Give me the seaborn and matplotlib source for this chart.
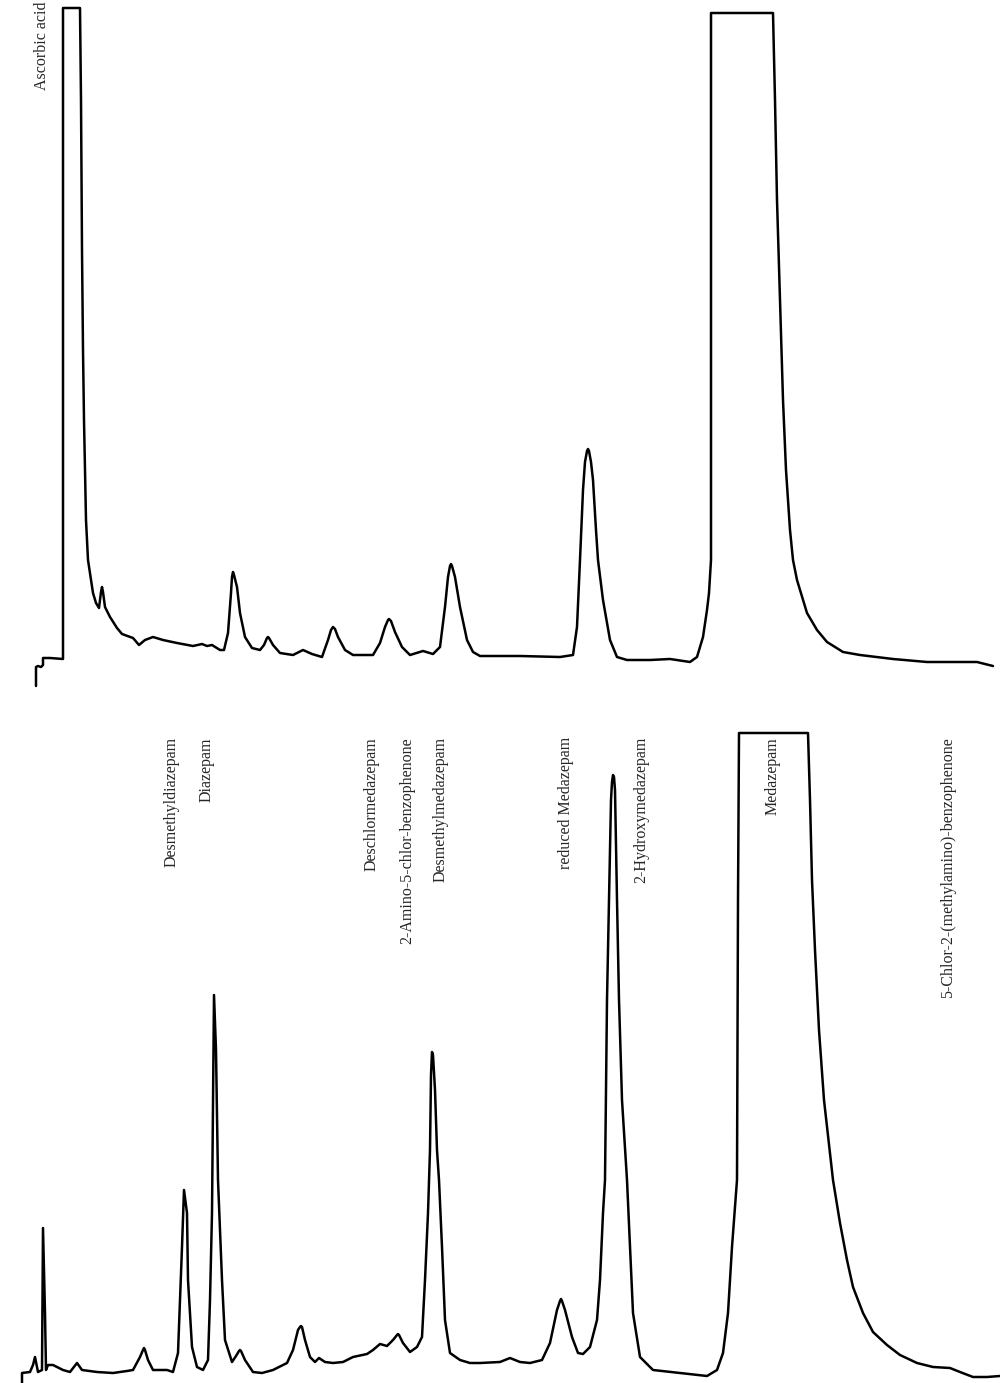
import numpy as np
import pandas as pd
import seaborn as sns
import matplotlib.pyplot as plt

sns.set_theme(style="white")
plt.rcParams['font.family'] = ['Liberation Serif', 'DejaVu Serif']

# upper chromatogram (sample), time in chart units, signal above baseline
top_t = [36, 36, 38, 41, 43, 43, 50, 63, 63, 80, 81, 82, 83, 84, 86, 88, 90, 93, 96, 99,
         101, 102, 103, 105, 110, 117, 122, 133, 139, 145, 153, 163, 177, 193, 202, 207,
         212, 220, 224, 228, 231, 232, 233, 234, 237, 240, 245, 252, 260, 264, 267, 268,
         269, 273, 280, 293, 303, 312, 322, 328, 331, 333, 335, 338, 345, 353, 373, 380,
         385, 388, 389, 391, 395, 402, 410, 423, 433, 440, 445, 448, 450, 451, 452, 455,
         460, 467, 473, 480, 520, 560, 573, 577, 580, 583, 585, 587, 588, 589, 591, 593,
         596, 598, 603, 610, 617, 627, 650, 670, 690, 697, 703, 707, 709, 711, 711, 773,
         775, 777, 780, 783, 786, 790, 793, 797, 807, 817, 827, 843, 860, 893, 927, 960,
         977, 993]
top_px = [686, 667, 666, 667, 665, 658, 658, 659, 8, 8, 100, 250, 350, 420, 520, 560, 573,
          593, 603, 608, 592, 587, 592, 607, 617, 628, 634, 638, 645, 640, 637, 640, 643,
          646, 644, 646, 645, 650, 650, 633, 593, 577, 572, 575, 587, 613, 637, 648, 650,
          645, 638, 637, 638, 645, 653, 655, 650, 654, 657, 640, 630, 627, 629, 637, 650,
          655, 655, 643, 627, 620, 619, 621, 632, 647, 655, 651, 654, 647, 607, 577, 566,
          564, 566, 577, 607, 640, 652, 656, 656, 657, 655, 627, 560, 490, 462, 451, 449,
          451, 462, 480, 530, 560, 600, 640, 657, 660, 660, 659, 662, 657, 637, 610, 593,
          560, 13, 13, 100, 200, 300, 400, 470, 530, 560, 580, 613, 630, 642, 652, 655,
          659, 662, 662, 662, 666]
top_signal = [660 - v for v in top_px]

# lower chromatogram (reference mixture)
bottom_t = [22, 22, 30, 33, 35, 38, 42, 43, 45, 46, 48, 53, 63, 70, 77, 82, 97, 113, 127,
            133, 140, 143, 144, 145, 148, 153, 167, 173, 178, 182, 184, 187, 188, 192, 197,
            203, 208, 210, 212, 213, 214, 216, 218, 222, 225, 232, 236, 239, 240, 241, 245,
            253, 262, 273, 287, 293, 298, 300, 301, 302, 305, 310, 315, 319, 325, 333, 343,
            353, 367, 373, 380, 387, 393, 397, 398, 399, 403, 410, 417, 422, 425, 428, 430,
            431, 432, 433, 435, 437, 439, 442, 445, 450, 460, 470, 480, 500, 510, 520, 530,
            542, 550, 557, 560, 561, 562, 565, 572, 578, 583, 590, 597, 600, 603, 605, 607,
            609, 611, 612, 613, 614, 615, 617, 619, 622, 627, 630, 633, 640, 653, 680, 707,
            717, 723, 728, 732, 737, 738, 739, 808, 810, 812, 815, 819, 824, 833, 840, 847,
            853, 863, 873, 887, 900, 917, 933, 950, 960, 973, 987, 1000]
bottom_px = [1383, 1373, 1372, 1365, 1357, 1372, 1370, 1228, 1313, 1370, 1365, 1365, 1370,
             1372, 1363, 1370, 1372, 1373, 1371, 1370, 1357, 1350, 1348, 1350, 1360, 1370,
             1370, 1372, 1353, 1247, 1190, 1213, 1280, 1347, 1367, 1370, 1360, 1300, 1213,
             1100, 995, 1050, 1180, 1280, 1340, 1362, 1356, 1351, 1350, 1351, 1360, 1372,
             1373, 1370, 1363, 1350, 1330, 1327, 1326, 1327, 1340, 1357, 1362, 1358, 1362,
             1363, 1362, 1357, 1354, 1350, 1344, 1346, 1340, 1335, 1334, 1335, 1343, 1352,
             1347, 1337, 1280, 1213, 1150, 1075, 1052, 1055, 1090, 1150, 1180, 1247, 1320,
             1353, 1360, 1363, 1363, 1362, 1358, 1362, 1363, 1360, 1343, 1310, 1301, 1299,
             1301, 1310, 1337, 1353, 1354, 1347, 1320, 1280, 1213, 1180, 1000, 900, 800,
             782, 775, 777, 790, 900, 1000, 1100, 1180, 1247, 1313, 1357, 1370, 1373, 1376,
             1370, 1353, 1313, 1247, 1180, 900, 733, 733, 800, 880, 950, 1030, 1100, 1180,
             1223, 1260, 1287, 1313, 1332, 1345, 1355, 1363, 1367, 1368, 1372, 1377, 1377,
             1376]
bottom_signal = [1376 - v for v in bottom_px]

peak_labels = ["Desmethyldiazepam", "Diazepam", "Deschlormedazepam",
               "2-Amino-5-chlor-benzophenone", "Desmethylmedazepam", "reduced Medazepam",
               "2-Hydroxymedazepam", "Medazepam", "5-Chlor-2-(methylamino)-benzophenone"]
label_t = [172, 207, 372, 407, 441, 566, 641, 773, 948]

top_df = pd.DataFrame({"t": top_t, "signal": top_signal})
bottom_df = pd.DataFrame({"t": bottom_t, "signal": bottom_signal})

fig = plt.figure(figsize=(10, 13.83), dpi=100)
ax_top = fig.add_axes([0, 1 - 700 / 1383, 1, 700 / 1383])
ax_bot = fig.add_axes([0, 0, 1, 683 / 1383])

sns.lineplot(data=top_df, x="t", y="signal", sort=False, estimator=None,
             color="black", linewidth=1.8, ax=ax_top)
sns.lineplot(data=bottom_df, x="t", y="signal", sort=False, estimator=None,
             color="black", linewidth=1.8, ax=ax_bot)

ax_top.set_xlim(0, 1000)
ax_top.set_ylim(-40, 660)
ax_bot.set_xlim(0, 1000)
ax_bot.set_ylim(-7, 676)

ax_top.text(42, 658, "Ascorbic acid", rotation=90, ha="center", va="top", fontsize=11.5)
for name, t in zip(peak_labels, label_t):
    ax_bot.text(t, 639, name, rotation=90, ha="center", va="top", fontsize=11.5)

for ax in (ax_top, ax_bot):
    ax.set_axis_off()
    for line in ax.lines:
        line.set_clip_on(False)
        line.set_solid_joinstyle("round")

fig.savefig("out.png", dpi=100)
